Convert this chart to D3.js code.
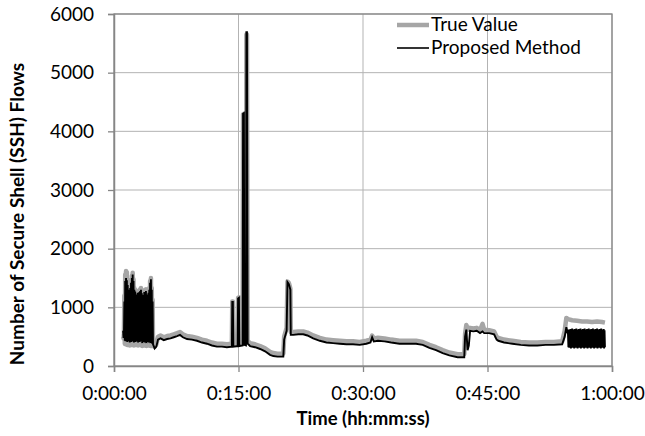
<!DOCTYPE html>
<html lang="en">
<head>
  <meta charset="UTF-8">
  <title>SSH Flows</title>
  <script src="https://d3js.org/d3.v7.min.js"></script>
  <style>
    body { margin: 0; background: #fff; }
    text { font-family: Lato, "Open Sans", sans-serif; fill: #000; }
  </style>
</head>
<body>
<div class="main"></div>
<script>

  // time in minutes, value = number of SSH flows
  var proposedMethod = [
    [1.10,600],[1.15,480],[1.20,520],[1.25,1100],[1.30,430],[1.35,1450],[1.40,420],[1.45,1500],[1.50,440],[1.55,1460],
    [1.60,410],[1.65,1380],[1.70,450],[1.75,1300],[1.80,420],[1.85,1250],[1.90,400],[1.95,1330],[2.00,430],[2.05,1420],
    [2.10,410],[2.15,1500],[2.20,440],[2.25,1560],[2.30,420],[2.35,1450],[2.40,400],[2.45,1300],[2.50,430],[2.55,1270],
    [2.60,410],[2.65,1220],[2.70,450],[2.75,1180],[2.80,420],[2.85,1250],[2.90,400],[2.95,1200],[3.00,430],[3.05,1260],
    [3.10,410],[3.15,1280],[3.20,440],[3.25,1300],[3.30,420],[3.35,1240],[3.40,390],[3.45,1210],[3.50,430],[3.55,1180],
    [3.60,410],[3.65,1260],[3.70,400],[3.75,1200],[3.80,420],[3.85,1280],[3.90,390],[3.95,1220],[4.00,430],[4.05,1190],
    [4.10,410],[4.15,1250],[4.20,400],[4.25,1300],[4.30,420],[4.35,1420],[4.40,390],[4.45,1480],[4.50,410],[4.55,1300],
    [4.60,380],[4.65,1100],[4.70,370],
    [4.90,300],[5.10,330],[5.30,450],[5.60,470],[6.00,440],[6.40,460],[6.80,470],[7.20,490],[7.60,510],[7.95,530],
    [8.30,490],[8.80,460],[9.40,450],[10.0,430],[10.6,400],[11.2,380],[11.8,350],[12.4,330],[13.0,330],[13.6,320],
    [14.20,330],[14.25,1090],[14.32,1090],[14.38,330],[14.90,340],[14.95,1150],[15.05,1160],[15.10,340],[15.50,350],
    [15.55,4300],[15.65,4310],[15.70,360],[15.90,350],[15.95,5690],[16.02,5690],[16.10,380],[16.40,340],[17.0,320],
    [17.6,290],[18.2,250],[18.8,190],[19.2,170],[19.7,160],[20.4,160],[20.5,450],[20.8,600],[20.9,1430],[21.05,1400],
    [21.1,1380],[21.25,1300],[21.3,530],[21.6,530],[22.2,540],[22.8,540],[23.3,520],[24.0,470],[24.8,430],[25.6,400],
    [26.4,390],[27.2,380],[28.0,370],[28.8,370],[29.6,360],[30.4,380],[30.9,400],[31.1,490],[31.3,420],[31.8,430],
    [32.6,420],[33.4,400],[34.4,380],[35.4,380],[36.4,380],[37.2,360],[38.0,310],[38.8,270],[39.6,220],[40.4,180],
    [41.4,150],[42.2,150],[42.3,500],[42.45,620],[42.6,270],[42.75,350],[42.9,600],[43.3,590],[43.7,600],[44.1,560],
    [44.4,590],[44.6,560],[45.2,560],[45.8,540],[46.1,450],[46.3,430],[47.0,400],[48.0,380],[49.0,360],[50.0,350],
    [51.0,350],[52.0,360],[53.0,360],[54.0,370],[54.3,500],[54.5,660],[54.7,540],
    [54.75,320],[54.80,620],[54.85,310],[54.90,600],[54.95,330],[55.00,630],[55.05,300],[55.10,610],[55.15,320],[55.20,640],
    [55.25,310],[55.30,600],[55.35,330],[55.40,620],[55.45,300],[55.50,630],[55.55,320],[55.60,610],[55.65,310],[55.70,640],
    [55.75,330],[55.80,600],[55.85,300],[55.90,620],[55.95,320],[56.00,630],[56.05,310],[56.10,610],[56.15,330],[56.20,640],
    [56.25,300],[56.30,600],[56.35,320],[56.40,620],[56.45,310],[56.50,630],[56.55,330],[56.60,610],[56.65,300],[56.70,640],
    [56.75,320],[56.80,600],[56.85,310],[56.90,620],[56.95,330],[57.00,630],[57.05,300],[57.10,610],[57.15,320],[57.20,640],
    [57.25,310],[57.30,600],[57.35,330],[57.40,620],[57.45,300],[57.50,630],[57.55,320],[57.60,610],[57.65,310],[57.70,640],
    [57.75,330],[57.80,600],[57.85,300],[57.90,620],[57.95,320],[58.00,630],[58.05,310],[58.10,610],[58.15,330],[58.20,640],
    [58.25,300],[58.30,600],[58.35,320],[58.40,620],[58.45,310],[58.50,630],[58.55,330],[58.60,610],[58.65,300],[58.70,640],
    [58.75,320],[58.80,600],[58.85,310],[58.90,620],[58.95,330],[59.00,630],[59.05,300],[59.10,610],[59.15,320]
  ];

  var trueValue = [
    [1.10,500],[1.15,470],[1.20,560],[1.25,1200],[1.30,380],[1.35,1560],[1.40,370],[1.45,1620],[1.50,390],[1.55,1600],
    [1.60,360],[1.65,1450],[1.70,400],[1.75,1350],[1.80,370],[1.85,1300],[1.90,350],[1.95,1380],[2.00,380],[2.05,1470],
    [2.10,360],[2.15,1540],[2.20,390],[2.25,1590],[2.30,370],[2.35,1480],[2.40,350],[2.45,1330],[2.50,380],[2.55,1300],
    [2.60,360],[2.65,1250],[2.70,400],[2.75,1210],[2.80,370],[2.85,1280],[2.90,350],[2.95,1230],[3.00,380],[3.05,1290],
    [3.10,360],[3.15,1310],[3.20,390],[3.25,1330],[3.30,370],[3.35,1270],[3.40,340],[3.45,1240],[3.50,380],[3.55,1210],
    [3.60,360],[3.65,1290],[3.70,350],[3.75,1230],[3.80,370],[3.85,1310],[3.90,340],[3.95,1250],[4.00,380],[4.05,1220],
    [4.10,360],[4.15,1280],[4.20,350],[4.25,1330],[4.30,370],[4.35,1450],[4.40,340],[4.45,1500],[4.50,360],[4.55,1330],
    [4.60,340],[4.65,1130],[4.70,360],
    [4.90,330],[5.10,370],[5.30,500],[5.60,520],[6.00,490],[6.40,510],[6.80,520],[7.20,540],[7.60,560],[7.95,580],
    [8.30,540],[8.80,510],[9.40,500],[10.0,480],[10.6,450],[11.2,430],[11.8,400],[12.4,380],[13.0,380],[13.6,370],
    [14.20,380],[14.25,1100],[14.32,1100],[14.38,380],[14.90,390],[14.95,1160],[15.05,1170],[15.10,390],[15.50,400],
    [15.55,4290],[15.65,4300],[15.70,410],[15.90,400],[15.95,5650],[16.02,5650],[16.10,430],[16.40,390],[17.0,370],
    [17.6,340],[18.2,300],[18.8,240],[19.2,220],[19.7,210],[20.4,210],[20.5,500],[20.8,650],[20.9,1440],[21.05,1420],
    [21.1,1400],[21.25,1320],[21.3,580],[21.6,580],[22.2,590],[22.8,590],[23.3,570],[24.0,520],[24.8,480],[25.6,450],
    [26.4,440],[27.2,430],[28.0,420],[28.8,420],[29.6,410],[30.4,430],[30.9,450],[31.1,520],[31.3,470],[31.8,480],
    [32.6,470],[33.4,450],[34.4,430],[35.4,430],[36.4,430],[37.2,410],[38.0,360],[38.8,320],[39.6,270],[40.4,230],
    [41.4,200],[42.2,200],[42.3,550],[42.45,700],[42.6,640],[42.75,620],[42.9,650],[43.3,640],[43.7,650],[44.1,610],
    [44.4,720],[44.6,620],[45.2,610],[45.8,590],[46.1,500],[46.3,480],[47.0,450],[48.0,430],[49.0,410],[50.0,400],
    [51.0,400],[52.0,410],[53.0,410],[54.0,420],[54.3,600],[54.5,820],[54.7,800],[55.2,780],[55.8,770],[56.4,760],
    [57.0,760],[57.6,750],[58.2,760],[58.8,750],[59.15,740]
  ];

  var yTicks = [0, 1000, 2000, 3000, 4000, 5000, 6000];
  var xTicks = [0, 15, 30, 45, 60];
  var xTickLabels = ["0:00:00", "0:15:00", "0:30:00", "0:45:00", "1:00:00"];

  let width = 645, height = 436;
  let margin = {top: 14, right: 33, bottom: 70, left: 114};
  let innerW = width - margin.left - margin.right;
  let innerH = height - margin.top - margin.bottom;

  let svg = d3.select(".main").append("svg")
          .attr("width", width)
          .attr("height", height);

  let g = svg.append("g").attr("transform", `translate(${margin.left},${margin.top})`);

  let xScale = d3.scaleLinear().domain([0, 60]).range([0, innerW]);
  let yScale = d3.scaleLinear().domain([0, 6000]).range([innerH, 0]);

  // gridlines
  g.append("g").selectAll("line").data(yTicks.slice(1)).join("line")
          .attr("x1", 0).attr("x2", innerW)
          .attr("y1", d => yScale(d)).attr("y2", d => yScale(d))
          .style("stroke", "#b3b3b3").style("stroke-width", 1);
  g.append("g").selectAll("line").data(xTicks.slice(1)).join("line")
          .attr("x1", d => xScale(d)).attr("x2", d => xScale(d))
          .attr("y1", 0).attr("y2", innerH)
          .style("stroke", "#b3b3b3").style("stroke-width", 1);

  // plot border
  g.append("rect").attr("x", 0).attr("y", 0).attr("width", innerW).attr("height", innerH)
          .style("fill", "none").style("stroke", "#868686").style("stroke-width", 1.3);

  let line = d3.line()
          .x(d => xScale(d[0]))
          .y(d => yScale(d[1]));

  g.append("path").datum(trueValue).attr("d", line)
          .style("fill", "none").style("stroke", "#a6a6a6").style("stroke-width", 4.5)
          .style("stroke-linejoin", "round");
  g.append("path").datum(proposedMethod).attr("d", line)
          .style("fill", "none").style("stroke", "#000").style("stroke-width", 1.9);

  // axes
  let xAxis = d3.axisBottom(xScale).tickValues(xTicks).tickSize(6).tickPadding(15)
          .tickFormat((d, i) => xTickLabels[i]);
  let yAxis = d3.axisLeft(yScale).tickValues(yTicks).tickSize(6).tickPadding(14)
          .tickFormat(d3.format("d"));

  let xg = g.append("g").attr("transform", `translate(0,${innerH})`).call(xAxis);
  let yg = g.append("g").call(yAxis);
  [xg, yg].forEach(a => {
    a.select(".domain").style("stroke", "#868686").style("stroke-width", 1.5);
    a.selectAll(".tick line").style("stroke", "#868686").style("stroke-width", 1.3);
    a.selectAll("text").style("font-family", "Lato, sans-serif").style("font-size", "19px").style("fill", "#000");
  });

  // axis titles
  svg.append("text").attr("x", margin.left + innerW / 2).attr("y", 425)
          .attr("text-anchor", "middle")
          .style("font-size", "18.5px").style("font-weight", "bold")
          .text("Time (hh:mm:ss)");
  svg.append("text").attr("transform", `translate(24,214) rotate(-90)`)
          .attr("text-anchor", "middle")
          .style("font-size", "19px").style("font-weight", "bold")
          .text("Number of Secure Shell (SSH) Flows");

  // legend
  let legend = svg.append("g");
  legend.append("line").attr("x1", 397).attr("x2", 429).attr("y1", 25).attr("y2", 25)
          .style("stroke", "#a6a6a6").style("stroke-width", 4.5);
  legend.append("line").attr("x1", 397).attr("x2", 429).attr("y1", 48).attr("y2", 48)
          .style("stroke", "#000").style("stroke-width", 1.6);
  legend.append("text").attr("x", 431).attr("y", 31).style("font-size", "19px").text("True Value");
  legend.append("text").attr("x", 431).attr("y", 54).style("font-size", "19px").text("Proposed Method");

</script>
</body>
</html>
